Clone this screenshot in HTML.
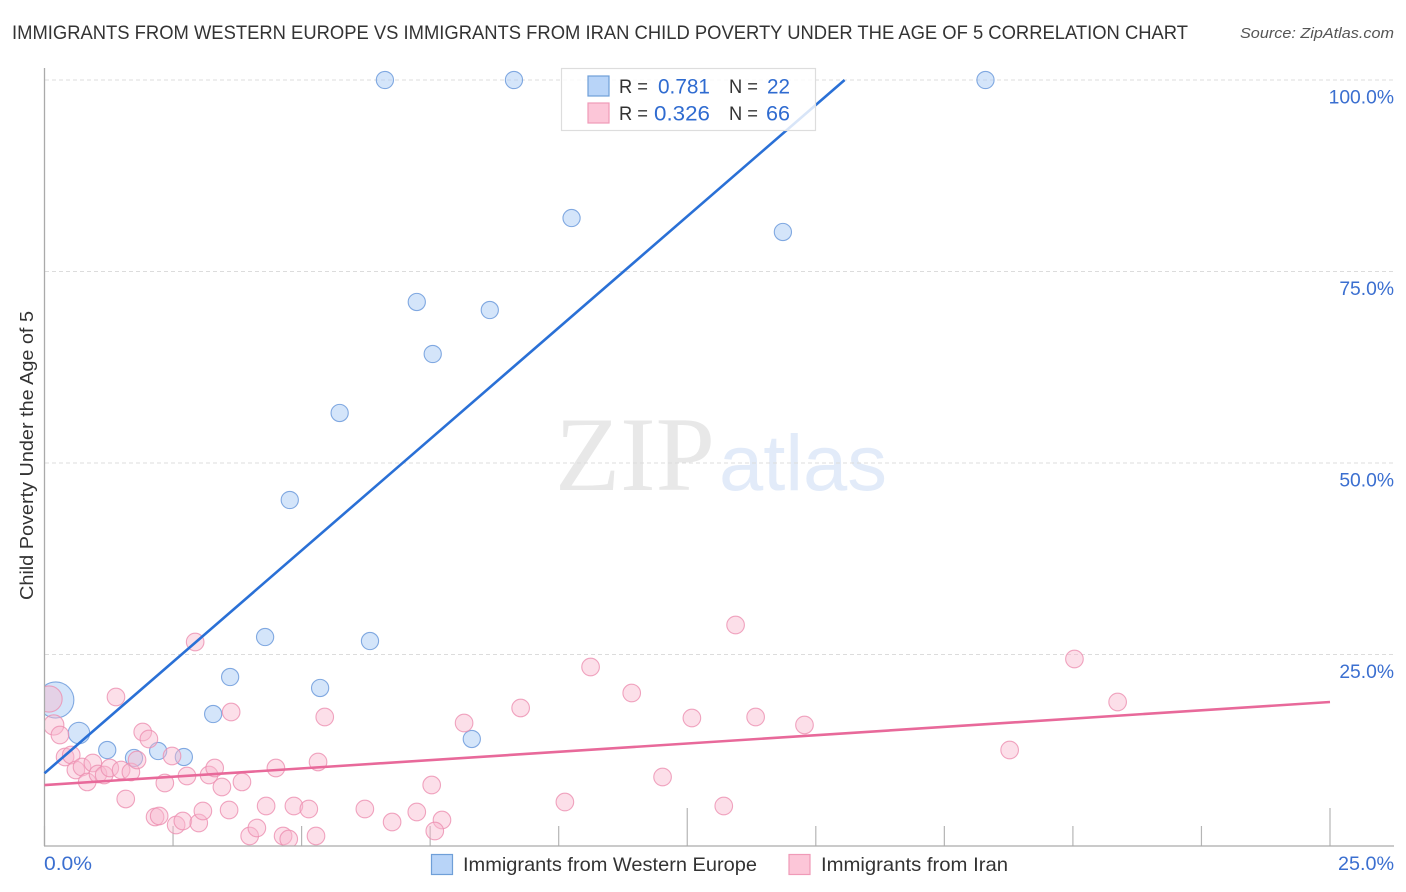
<!DOCTYPE html>
<html lang="en">
<head>
<meta charset="utf-8">
<title>Immigrants from Western Europe vs Immigrants from Iran Child Poverty Correlation Chart</title>
<style>
html,body{margin:0;padding:0;background:#fff;width:1406px;height:892px;overflow:hidden}
svg{display:block;font-family:"Liberation Sans",sans-serif}
</style>
</head>
<body>
<svg id="chart" xmlns="http://www.w3.org/2000/svg" width="1406" height="892" viewBox="0 0 1406 892">
  <rect x="0" y="0" width="1406" height="892" fill="#ffffff"/>
  <text x="12" y="39" font-size="19.5" fill="#333333" textLength="1176" lengthAdjust="spacingAndGlyphs">IMMIGRANTS FROM WESTERN EUROPE VS IMMIGRANTS FROM IRAN CHILD POVERTY UNDER THE AGE OF 5 CORRELATION CHART</text>
  <text x="1394" y="38" font-size="15" font-style="italic" fill="#555555" text-anchor="end" textLength="154" lengthAdjust="spacingAndGlyphs">Source: ZipAtlas.com</text>
  <g>
    <text x="555" y="490" font-family="'Liberation Serif',serif" font-size="106" fill="#e8e8e8" textLength="160" lengthAdjust="spacingAndGlyphs">ZIP</text>
    <text x="719" y="490" font-size="79" fill="#e2ebf9" textLength="168" lengthAdjust="spacingAndGlyphs">atlas</text>
  </g>
  <g id="grid"></g>
  <g id="ticks"></g>
  <svg x="45" y="60" width="1350" height="786" viewBox="45 60 1350 786" overflow="hidden">
    <g id="points-blue"></g>
    <g id="points-pink"></g>
  </svg>
  <line x1="44.5" y1="68" x2="44.5" y2="846" stroke="#aaaaaa" stroke-width="1.3"/>
  <line x1="44" y1="846" x2="1394" y2="846" stroke="#aaaaaa" stroke-width="1.3"/>
  <line id="trend-blue" stroke="#2a70d6" stroke-width="2.6"/>
  <line id="trend-pink" stroke="#e8699a" stroke-width="2.6"/>
  <g id="y-labels"></g>
  <text id="x-label-min" x="44" y="870" font-size="19" fill="#3b6fd0" textLength="48" lengthAdjust="spacingAndGlyphs"></text>
  <text id="x-label-max" x="1394" y="870" font-size="19" fill="#3b6fd0" text-anchor="end" textLength="56" lengthAdjust="spacingAndGlyphs"></text>
  <text transform="translate(33,455.5) rotate(-90)" font-size="18.5" fill="#333333" text-anchor="middle" textLength="289" lengthAdjust="spacingAndGlyphs">Child Poverty Under the Age of 5</text>

  <g>
    <rect x="561.5" y="68.5" width="254" height="62" fill="#ffffff" fill-opacity="0.82" stroke="#dddddd" stroke-width="1.2"/>
    <rect x="588" y="76" width="21" height="20" fill="#b8d4f8" stroke="#6f9fd8" stroke-width="1.2"/>
    <rect x="588" y="103" width="21" height="20" fill="#fcc6d8" stroke="#f09ab8" stroke-width="1.2"/>
    <text x="619" y="93" font-size="19.5" fill="#333333" textLength="29" lengthAdjust="spacingAndGlyphs">R =</text>
    <text x="658" y="93.5" font-size="21" fill="#2f6bd0" textLength="52" lengthAdjust="spacingAndGlyphs">0.781</text>
    <text x="729" y="93" font-size="19.5" fill="#333333" textLength="29" lengthAdjust="spacingAndGlyphs">N =</text>
    <text x="767" y="93.5" font-size="21" fill="#2f6bd0" textLength="23" lengthAdjust="spacingAndGlyphs">22</text>
    <text x="619" y="120" font-size="19.5" fill="#333333" textLength="29" lengthAdjust="spacingAndGlyphs">R =</text>
    <text x="654" y="120.5" font-size="21" fill="#2f6bd0" textLength="56" lengthAdjust="spacingAndGlyphs">0.326</text>
    <text x="729" y="120" font-size="19.5" fill="#333333" textLength="29" lengthAdjust="spacingAndGlyphs">N =</text>
    <text x="766" y="120.5" font-size="21" fill="#2f6bd0" textLength="24" lengthAdjust="spacingAndGlyphs">66</text>
  </g>

  <g>
    <rect x="431.5" y="854.5" width="21" height="20" fill="#b8d4f8" stroke="#6f9fd8" stroke-width="1.2"/>
    <text x="463" y="871" font-size="19.5" fill="#333333" textLength="294" lengthAdjust="spacingAndGlyphs">Immigrants from Western Europe</text>
    <rect x="789" y="854.5" width="21" height="20" fill="#fcc6d8" stroke="#f09ab8" stroke-width="1.2"/>
    <text x="821" y="871" font-size="19.5" fill="#333333" textLength="187" lengthAdjust="spacingAndGlyphs">Immigrants from Iran</text>
  </g>
</svg>
<script>
var yTicks = [25, 50, 75, 100];
var yTickLabels = ["25.0%", "50.0%", "75.0%", "100.0%"];
var xTicks = [0, 2.5, 5, 7.5, 10, 12.5, 15, 17.5, 20, 22.5, 25];
var xMajorTicks = [12.5, 25];
var xMinLabel = "0.0%";
var xMaxLabel = "25.0%";

var blueX = [6.62, 9.13, 18.30, 10.25, 14.36, 7.24, 8.66, 7.55, 5.74, 4.77, 4.29, 6.33, 3.61, 5.36, 3.28, 8.31, 0.67, 1.22, 1.74, 2.21, 2.71, 0.22];
var blueY = [100, 100, 100, 81.98, 80.16, 71.02, 69.97, 64.23, 56.53, 45.17, 27.28, 26.76, 22.06, 20.63, 17.23, 13.97, 14.75, 12.53, 11.49, 12.40, 11.62, 19.06];
var blueSize = [1, 1, 1, 1, 1, 1, 1, 1, 1, 1, 1, 1, 1, 1, 1, 1, 1.25, 1, 1, 1, 1, 2.1];

var pinkX = [2.93, 13.44, 10.62, 20.03, 11.42, 20.87, 9.26, 8.16, 12.59, 13.83, 14.78, 5.45, 3.63, 1.39, 0.09, 0.18, 0.30, 0.40, 0.52, 0.61, 0.73, 0.83, 0.94, 1.04, 1.16, 1.27, 1.49, 1.68, 1.80, 1.91, 2.03, 2.48, 2.34, 1.58, 2.15, 2.23, 2.56, 2.69, 3.00, 3.08, 3.59, 2.77, 3.20, 3.31, 3.45, 3.84, 3.99, 4.13, 5.32, 4.50, 4.31, 4.85, 5.14, 6.23, 6.76, 7.24, 7.73, 7.59, 7.53, 4.64, 4.75, 5.28, 10.12, 12.02, 13.21, 18.77];
var pinkY = [26.63, 28.85, 23.37, 24.41, 19.97, 18.80, 18.02, 16.06, 16.71, 16.84, 15.80, 16.84, 17.49, 19.45, 19.19, 15.80, 14.49, 11.62, 11.88, 9.92, 10.31, 8.36, 10.84, 9.40, 9.27, 10.18, 9.92, 9.66, 11.23, 14.88, 13.97, 11.75, 8.22, 6.14, 3.79, 3.92, 2.74, 3.26, 3.00, 4.57, 4.70, 9.14, 9.27, 10.18, 7.70, 8.36, 1.31, 2.35, 10.97, 10.18, 5.22, 5.22, 4.83, 4.83, 3.13, 4.44, 3.39, 1.96, 7.96, 1.31, 0.91, 1.31, 5.74, 9.01, 5.22, 12.53];
var pinkSize = [1, 1, 1, 1, 1, 1, 1, 1, 1, 1, 1, 1, 1, 1, 1.48, 1.15, 1, 1, 1, 1, 1, 1, 1, 1, 1, 1, 1, 1, 1, 1, 1, 1, 1, 1, 1, 1, 1, 1, 1, 1, 1, 1, 1, 1, 1, 1, 1, 1, 1, 1, 1, 1, 1, 1, 1, 1, 1, 1, 1, 1, 1, 1, 1, 1, 1, 1];

var blueTrendX = [0, 15.56];
var blueTrendY = [9.5, 100];
var pinkTrendX = [0, 25];
var pinkTrendY = [7.96, 18.8];

var NS = "http://www.w3.org/2000/svg";
function xScale(v) { return 44.5 + v * (1330 - 44.5) / 25; }
function yScale(v) { return 846 - v * (846 - 80) / 100; }
function make(tag, parent, attrs) {
  var el = document.createElementNS(NS, tag);
  for (var k in attrs) { el.setAttribute(k, attrs[k]); }
  parent.appendChild(el);
  return el;
}

var gridGroup = document.getElementById("grid");
var yLabelGroup = document.getElementById("y-labels");
yTicks.forEach(function (t, i) {
  var gl = make("line", gridGroup, {
    x1: 45, x2: 1394, y1: yScale(t), y2: yScale(t),
    stroke: "#dcdcdc", "stroke-width": 1, "stroke-dasharray": "4 3"
  });
  
  
  var lb = make("text", yLabelGroup, {
    x: 1394, y: yScale(t) + 23.5, "font-size": 19.3, fill: "#3b6fd0", "text-anchor": "end"
  });
  
  
  lb.textContent = yTickLabels[i];
});

var tickGroup = document.getElementById("ticks");
xTicks.forEach(function (t) {
  var major = xMajorTicks.indexOf(t) >= 0;
  var tk = make("line", tickGroup, {
    x1: xScale(t), x2: xScale(t), y1: major ? 808 : 826, y2: 846,
    stroke: "#b5b5b5", "stroke-width": 1.2
  });
  
  
});

document.getElementById("x-label-min").textContent = xMinLabel;
document.getElementById("x-label-max").textContent = xMaxLabel;

var blueGroup = document.getElementById("points-blue");
blueX.forEach(function (v, i) {
  var c = make("circle", blueGroup, {
    cx: xScale(v), cy: yScale(blueY[i]), r: 8.6 * blueSize[i],
    fill: "#a9cbf5", "fill-opacity": 0.5, stroke: "#6d9bdc", "stroke-opacity": 0.85, "stroke-width": 1.1
  });
  
  
});

var pinkGroup = document.getElementById("points-pink");
pinkX.forEach(function (v, i) {
  var c = make("circle", pinkGroup, {
    cx: xScale(v), cy: yScale(pinkY[i]), r: 8.8 * pinkSize[i],
    fill: "#f9b9cf", "fill-opacity": 0.45, stroke: "#ec8fb0", "stroke-opacity": 0.8, "stroke-width": 1.1
  });
  
  
});

function setLine(id, xs, ys) {
  var l = document.getElementById(id);
  l.setAttribute("x1", xScale(xs[0]));
  l.setAttribute("y1", yScale(ys[0]));
  l.setAttribute("x2", xScale(xs[1]));
  l.setAttribute("y2", yScale(ys[1]));
}
setLine("trend-blue", blueTrendX, blueTrendY);
setLine("trend-pink", pinkTrendX, pinkTrendY);
</script>
</body>
</html>
